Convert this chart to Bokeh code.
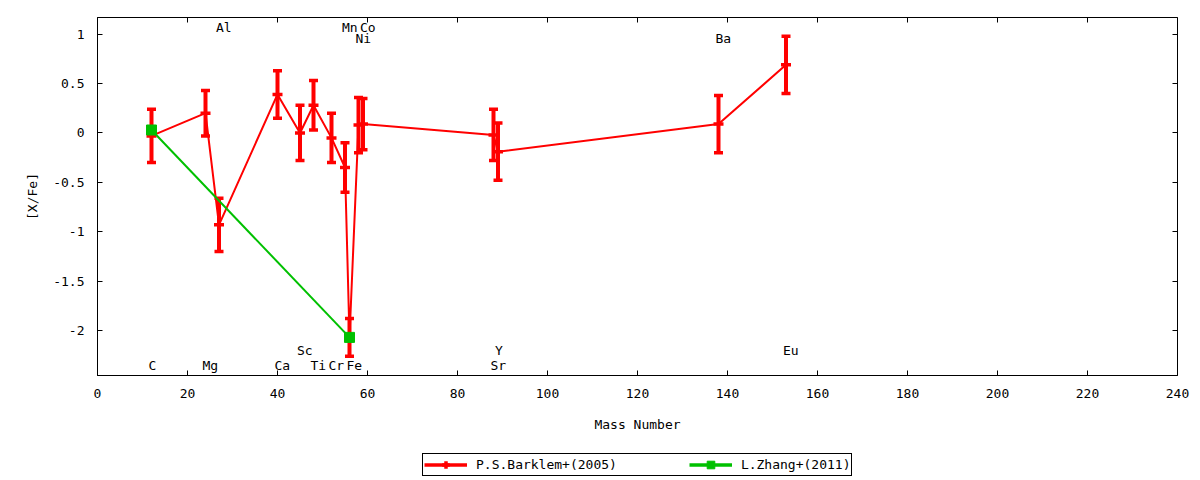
import numpy as np
from bokeh.plotting import figure
from bokeh.layouts import column
from bokeh.models import (FixedTicker, PrintfTickFormatter, LinearAxis, Legend,
                          LegendItem, ColumnDataSource, Range1d, CustomLabelingPolicy)
from bokeh.core.properties import value
from bokeh.embed import file_html
from bokeh.resources import INLINE

# ---- data ----
elements = ["C", "Mg", "Al", "Ca", "Sc", "Ti", "Cr", "Mn", "Fe", "Ni", "Co", "Sr", "Y", "Ba", "Eu"]
mass_number = [12, 24, 27, 40, 45, 48, 52, 55, 56, 58, 59, 88, 89, 138, 153]
barklem_xfe = [-0.03, 0.20, -0.93, 0.39, 0.00, 0.28, -0.05, -0.35, -2.07, 0.08, 0.09, -0.02, -0.19, 0.09, 0.69]
barklem_err = [0.27, 0.23, 0.27, 0.24, 0.28, 0.25, 0.25, 0.25, 0.19, 0.28, 0.26, 0.26, 0.29, 0.29, 0.29]
label_y = [-2.35, -2.35, 1.07, -2.35, -2.20, -2.35, -2.35, 1.07, -2.35, 0.96, 1.07, -2.35, -2.20, 0.96, -2.20]

zhang_elements = ["C", "Fe"]
zhang_mass = [12, 56]
zhang_xfe = [0.03, -2.07]

x_ticks = [0, 20, 40, 60, 80, 100, 120, 140, 160, 180, 200, 220, 240]
y_ticks = [-2, -1.5, -1, -0.5, 0, 0.5, 1]

FONT = "DejaVu Sans Mono"
FS = "13px"
RED = "#ff0000"
GREEN = "#00c000"

p = figure(width=1200, height=452,
           x_range=Range1d(0, 240), y_range=Range1d(-2.456, 1.169),
           output_backend="svg", toolbar_location=None,
           min_border_left=97, min_border_right=23, min_border_top=17, min_border_bottom=77,
           background_fill_color="white", border_fill_color="white")
p.xgrid.visible = False
p.ygrid.visible = False
p.outline_line_color = "black"
p.outline_line_width = 1
p.outline_line_alpha = 1

for ax in (p.xaxis[0], p.yaxis[0]):
    ax.major_label_text_font = FONT
    ax.major_label_text_font_size = FS
    ax.major_label_text_color = "black"
    ax.axis_label_text_font = FONT
    ax.axis_label_text_font_size = FS
    ax.axis_label_text_font_style = "normal"
    ax.axis_label_text_color = "black"
    ax.major_tick_in = 5
    ax.major_tick_out = 0
    ax.minor_tick_in = 0
    ax.minor_tick_out = 0
    ax.major_tick_line_color = "black"
    ax.axis_line_color = "black"

p.xaxis.ticker = FixedTicker(ticks=x_ticks)
p.xaxis.axis_label = "Mass Number"
p.xaxis.major_label_standoff = 13
p.xaxis.axis_label_standoff = 16

p.yaxis.ticker = FixedTicker(ticks=y_ticks)
p.yaxis.formatter = PrintfTickFormatter(format="%g")
p.yaxis.axis_label = "[X/Fe]"
p.yaxis.major_label_standoff = 13
p.yaxis.axis_label_standoff = 10

# mirror ticks (no labels)
top_ax = LinearAxis(ticker=FixedTicker(ticks=x_ticks), major_label_text_font_size="0px",
                    major_label_policy=CustomLabelingPolicy(code="return"),
                    major_tick_in=5, major_tick_out=0, minor_tick_in=0, minor_tick_out=0,
                    axis_line_color=None, major_label_standoff=0)
right_ax = LinearAxis(ticker=FixedTicker(ticks=y_ticks), major_label_text_font_size="0px",
                      major_label_policy=CustomLabelingPolicy(code="return"),
                      major_tick_in=5, major_tick_out=0, minor_tick_in=0, minor_tick_out=0,
                      axis_line_color=None, major_label_standoff=0)
p.add_layout(top_ax, "above")
p.add_layout(right_ax, "right")

# ---- Barklem data ----
lo = [v - e for v, e in zip(barklem_xfe, barklem_err)]
hi = [v + e for v, e in zip(barklem_xfe, barklem_err)]
src = ColumnDataSource(dict(x=mass_number, y=barklem_xfe, lo=lo, hi=hi))

p.line("x", "y", source=src, line_color=RED, line_width=2)
p.segment(x0="x", y0="lo", x1="x", y1="hi", source=src, line_color=RED, line_width=4)
p.scatter("x", "lo", source=src, marker="dash", size=9, line_color=RED, line_width=3.5)
p.scatter("x", "hi", source=src, marker="dash", size=9, line_color=RED, line_width=3.5)
p.scatter("x", "y", source=src, marker="dash", size=10, line_color=RED, line_width=3.5)

# ---- Zhang data ----
zsrc = ColumnDataSource(dict(x=zhang_mass, y=zhang_xfe))
p.line("x", "y", source=zsrc, line_color=GREEN, line_width=2)
p.scatter("x", "y", source=zsrc, marker="square", size=10, fill_color=GREEN, line_color=GREEN)

# ---- element labels ----
lsrc = ColumnDataSource(dict(x=mass_number, y=label_y, t=elements))
p.text("x", "y", text="t", source=lsrc, text_font=value(FONT), text_font_size=FS,
       text_align="left", text_baseline="middle", x_offset=-3, text_color="black")

# ---- legend (own strip below the plot; its ranges keep the proxy glyphs out of view) ----
lf = figure(width=1200, height=28, x_range=Range1d(-2, -1), y_range=Range1d(-2, -1),
            output_backend="svg", toolbar_location=None,
            x_axis_type=None, y_axis_type=None, min_border=0,
            background_fill_color="white", border_fill_color="white")
lf.outline_line_color = None

leg_r_line = lf.line("x", "y", source=src, line_color=RED, line_width=3.5)
leg_r_tick = lf.scatter("x", "y", source=src, marker="cross",
                        line_color=RED, line_width=3.5)
leg_g_line = lf.line("x", "y", source=zsrc, line_color=GREEN, line_width=3.5)
leg_g_sq = lf.scatter("x", "y", source=zsrc, marker="square",
                      fill_color=GREEN, line_color=GREEN)

legend = Legend(items=[LegendItem(label="P.S.Barklem+(2005)", renderers=[leg_r_line, leg_r_tick]),
                       LegendItem(label="L.Zhang+(2011)", renderers=[leg_g_line, leg_g_sq])],
                orientation="horizontal", location=(325, 4),
                glyph_width=43, glyph_height=19, label_height=19, label_standoff=9,
                spacing=72, padding=1, margin=0,
                border_line_color="black", border_line_width=1, border_line_alpha=1,
                background_fill_color="white", background_fill_alpha=1,
                label_text_font=FONT, label_text_font_size=FS, label_text_color="black")
lf.add_layout(legend)

open("out.html", "w").write(file_html(column(p, lf, spacing=0), INLINE))
